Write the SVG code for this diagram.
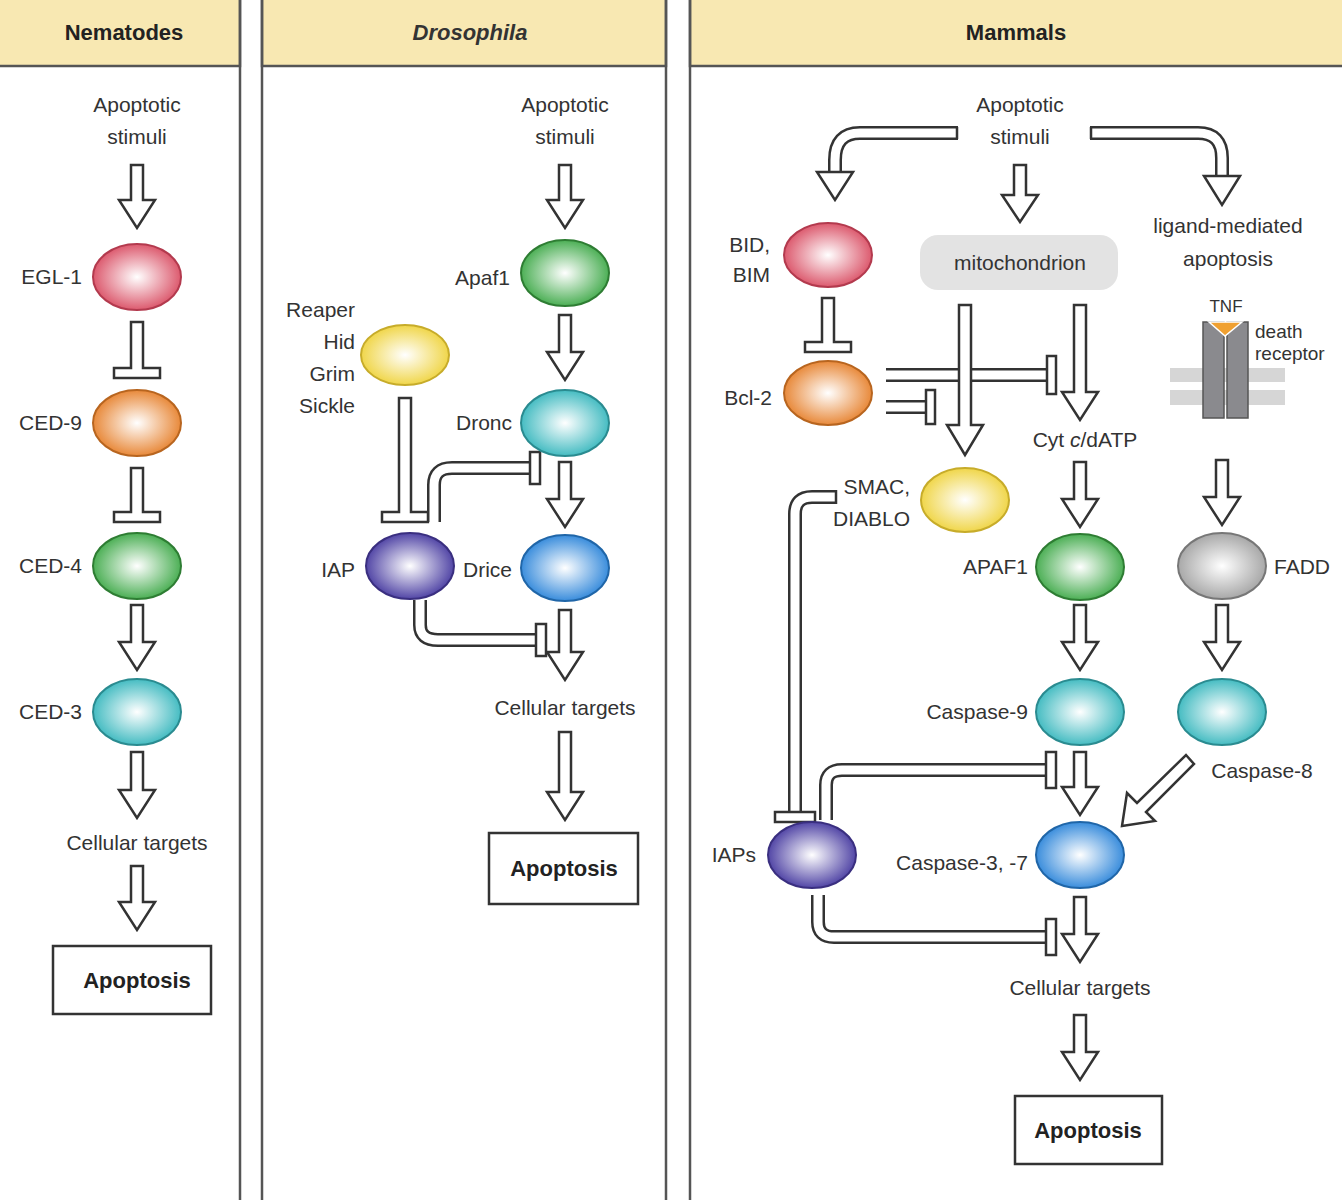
<svg xmlns="http://www.w3.org/2000/svg" width="1342" height="1200" viewBox="0 0 1342 1200">
<defs>
<style>
text{font-family:"Liberation Sans",Arial,sans-serif;font-size:21px;fill:#333}
.c{text-anchor:middle}.r{text-anchor:end}
.h{font-weight:bold;font-size:22px;fill:#222}
.ar{fill:#fff;stroke:#333;stroke-width:2.5;stroke-linejoin:miter}
.o{fill:none;stroke:#333;stroke-width:14}
.i{fill:none;stroke:#fff;stroke-width:9}
.box{fill:#fff;stroke:#333;stroke-width:2.5}
.e{stroke-width:2}
</style>
<radialGradient id="gr"><stop offset="0" stop-color="#fff"/><stop offset="1" stop-color="#dc5a6e"/></radialGradient>
<radialGradient id="go"><stop offset="0" stop-color="#fff"/><stop offset="1" stop-color="#e8893a"/></radialGradient>
<radialGradient id="gg"><stop offset="0" stop-color="#fff"/><stop offset="1" stop-color="#4caf55"/></radialGradient>
<radialGradient id="gc"><stop offset="0" stop-color="#fff"/><stop offset="1" stop-color="#45bcc2"/></radialGradient>
<radialGradient id="gb"><stop offset="0" stop-color="#fff"/><stop offset="1" stop-color="#3a8ddc"/></radialGradient>
<radialGradient id="gp"><stop offset="0" stop-color="#fff"/><stop offset="1" stop-color="#5246a6"/></radialGradient>
<radialGradient id="gy"><stop offset="0" stop-color="#fff"/><stop offset="1" stop-color="#f0d64a"/></radialGradient>
<radialGradient id="gx"><stop offset="0" stop-color="#fff"/><stop offset="1" stop-color="#a8a8a8"/></radialGradient>
</defs>
<rect width="1342" height="1200" fill="#fff"/>
<g id="panels" stroke="#555" stroke-width="2.5">
<rect x="-2" y="-2" width="242" height="68" fill="#f8e8b2"/>
<rect x="262" y="-2" width="404" height="68" fill="#f8e8b2"/>
<rect x="690" y="-2" width="660" height="68" fill="#f8e8b2"/>
<line x1="240" y1="0" x2="240" y2="1200"/><line x1="262" y1="0" x2="262" y2="1200"/>
<line x1="666" y1="0" x2="666" y2="1200"/><line x1="690" y1="0" x2="690" y2="1200"/>
</g>
<text class="c h" x="124" y="40">Nematodes</text>
<text class="c" x="470" y="40" style="font-style:italic;font-weight:bold;font-size:22px">Drosophila</text>
<text class="c h" x="1016" y="40">Mammals</text>

<g id="connectors">
<path class="o" d="M958,133 H860 Q835,133 835,160 V172"/><path class="i" d="M958,133 H860 Q835,133 835,160 V174"/>
<path class="o" d="M1090,133 H1198 Q1222,133 1222,158 V176"/><path class="i" d="M1090,133 H1198 Q1222,133 1222,158 V178"/>
<line x1="957" y1="127" x2="957" y2="139" stroke="#333" stroke-width="2.5"/>
<line x1="1091" y1="127" x2="1091" y2="139" stroke="#333" stroke-width="2.5"/>
<polygon class="ar" points="817,172 853,172 835,200"/>
<polygon class="ar" points="1204,176 1240,176 1222,205"/>
<polygon class="ar" points="131,165 143,165 143,200 155,200 137,228 119,200 131,200"/>
<polygon class="ar" points="131,322 143,322 143,368 160,368 160,378 114,378 114,368 131,368"/>
<polygon class="ar" points="131,468 143,468 143,512 160,512 160,522 114,522 114,512 131,512"/>
<polygon class="ar" points="131,605 143,605 143,642 155,642 137,670 119,642 131,642"/>
<polygon class="ar" points="131,752 143,752 143,790 155,790 137,818 119,790 131,790"/>
<polygon class="ar" points="131,866 143,866 143,902 155,902 137,930 119,902 131,902"/>
<polygon class="ar" points="559,165 571,165 571,200 583,200 565,228 547,200 559,200"/>
<polygon class="ar" points="559,315 571,315 571,352 583,352 565,380 547,352 559,352"/>
<polygon class="ar" points="559,462 571,462 571,499 583,499 565,527 547,499 559,499"/>
<polygon class="ar" points="559,610 571,610 571,652 583,652 565,680 547,652 559,652"/>
<polygon class="ar" points="559,732 571,732 571,792 583,792 565,820 547,792 559,792"/>
<polygon class="ar" points="399,398 411,398 411,512 428,512 428,522 382,522 382,512 399,512"/>
<path class="o" d="M434,522 V485 Q434,468 452,468 H530"/><path class="i" d="M434,524 V485 Q434,468 452,468 H531"/>
<rect class="ar" x="530" y="452" width="10" height="32"/>
<path class="o" d="M420,600 V625 Q420,640 438,640 H536"/><path class="i" d="M420,598 V625 Q420,640 438,640 H537"/>
<rect class="ar" x="536" y="624" width="10" height="32"/>
<polygon class="ar" points="1014,165 1026,165 1026,195 1038,195 1020,222 1002,195 1014,195"/>
<polygon class="ar" points="822,298 834,298 834,342 851,342 851,352 805,352 805,342 822,342"/>
<path class="o" d="M886,375 H1048"/><path class="i" d="M884,375 H1049"/>
<rect class="ar" x="1047" y="356" width="9" height="38"/>
<path class="o" d="M886,407 H926"/><path class="i" d="M884,407 H927"/>
<rect class="ar" x="926" y="390" width="9" height="34"/>
<polygon class="ar" points="959,305 971,305 971,425 983,425 965,455 947,425 959,425"/>
<polygon class="ar" points="1074,305 1086,305 1086,392 1098,392 1080,420 1062,392 1074,392"/>
<polygon class="ar" points="1074,462 1086,462 1086,499 1098,499 1080,527 1062,499 1074,499"/>
<polygon class="ar" points="1074,605 1086,605 1086,642 1098,642 1080,670 1062,642 1074,642"/>
<polygon class="ar" points="1074,752 1086,752 1086,787 1098,787 1080,815 1062,787 1074,787"/>
<polygon class="ar" points="1074,897 1086,897 1086,934 1098,934 1080,962 1062,934 1074,934"/>
<polygon class="ar" points="1074,1015 1086,1015 1086,1052 1098,1052 1080,1080 1062,1052 1074,1052"/>
<polygon class="ar" points="1216,460 1228,460 1228,497 1240,497 1222,525 1204,497 1216,497"/>
<polygon class="ar" points="1216,605 1228,605 1228,642 1240,642 1222,670 1204,642 1216,642"/>
<polygon class="ar" points="1186,755 1194,764 1146,812 1155,821 1122,826 1127,793 1137,803"/>
<path class="o" d="M835,497 H812 Q795,497 795,514 V812"/><path class="i" d="M836,497 H812 Q795,497 795,514 V813"/>
<line x1="836" y1="490" x2="836" y2="504" stroke="#333" stroke-width="2.5"/>
<rect class="ar" x="775" y="812" width="40" height="10"/>
<path class="o" d="M826,820 V785 Q826,770 842,770 H1046"/><path class="i" d="M826,822 V785 Q826,770 842,770 H1047"/>
<rect class="ar" x="1046" y="752" width="10" height="36"/>
<path class="o" d="M818,895 V922 Q818,937 834,937 H1046"/><path class="i" d="M818,893 V922 Q818,937 834,937 H1047"/>
<rect class="ar" x="1046" y="919" width="10" height="36"/>
</g>

<g id="col1">
<text class="c" x="137" y="112">Apoptotic</text><text class="c" x="137" y="144">stimuli</text>
<g id="egl1"><ellipse class="e" cx="137" cy="277" rx="44" ry="33" fill="url(#gr)" stroke="#b33a4e"/><text class="r" x="82" y="284">EGL-1</text></g>
<g id="ced9"><ellipse class="e" cx="137" cy="423" rx="44" ry="33" fill="url(#go)" stroke="#b8651f"/><text class="r" x="82" y="430">CED-9</text></g>
<g id="ced4"><ellipse class="e" cx="137" cy="566" rx="44" ry="33" fill="url(#gg)" stroke="#2e7d33"/><text class="r" x="82" y="573">CED-4</text></g>
<g id="ced3"><ellipse class="e" cx="137" cy="712" rx="44" ry="33" fill="url(#gc)" stroke="#2a8b90"/><text class="r" x="82" y="719">CED-3</text></g>
<text class="c" x="137" y="850">Cellular targets</text>
<g id="apo1"><rect class="box" x="53" y="946" width="158" height="68"/><text class="c h" x="137" y="988">Apoptosis</text></g>
</g>

<g id="col2">
<text class="c" x="565" y="112">Apoptotic</text><text class="c" x="565" y="144">stimuli</text>
<g id="apaf1"><ellipse class="e" cx="565" cy="273" rx="44" ry="33" fill="url(#gg)" stroke="#2e7d33"/><text class="r" x="510" y="285">Apaf1</text></g>
<g id="dronc"><ellipse class="e" cx="565" cy="423" rx="44" ry="33" fill="url(#gc)" stroke="#2a8b90"/><text class="r" x="512" y="430">Dronc</text></g>
<g id="drice"><ellipse class="e" cx="565" cy="568" rx="44" ry="33" fill="url(#gb)" stroke="#2066a8"/><text class="r" x="512" y="577">Drice</text></g>
<g id="reaper"><ellipse class="e" cx="405" cy="355" rx="44" ry="30" fill="url(#gy)" stroke="#c7ac2a"/>
<text class="r" x="355" y="317">Reaper</text><text class="r" x="355" y="349">Hid</text><text class="r" x="355" y="381">Grim</text><text class="r" x="355" y="413">Sickle</text></g>
<g id="iap"><ellipse class="e" cx="410" cy="566" rx="44" ry="33" fill="url(#gp)" stroke="#3a2f80"/><text class="r" x="355" y="577">IAP</text></g>
<text class="c" x="565" y="715">Cellular targets</text>
<g id="apo2"><rect class="box" x="489" y="833" width="149" height="71"/><text class="c h" x="564" y="876">Apoptosis</text></g>
</g>

<g id="col3">
<text class="c" x="1020" y="112">Apoptotic</text><text class="c" x="1020" y="144">stimuli</text>
<g id="bid"><ellipse class="e" cx="828" cy="255" rx="44" ry="32" fill="url(#gr)" stroke="#b33a4e"/><text class="r" x="770" y="252">BID,</text><text class="r" x="770" y="282">BIM</text></g>
<g id="bcl2"><ellipse class="e" cx="828" cy="393" rx="44" ry="32" fill="url(#go)" stroke="#b8651f"/><text class="r" x="772" y="405">Bcl-2</text></g>
<g id="mito"><rect x="920" y="235" width="198" height="55" rx="18" fill="#e3e3e3"/><text class="c" x="1020" y="270">mitochondrion</text></g>
<text class="c" x="1228" y="233">ligand-mediated</text><text class="c" x="1228" y="266">apoptosis</text>
<g id="tnf">
<rect x="1170" y="368" width="115" height="14" fill="#d6d6d6"/><rect x="1170" y="390" width="115" height="15" fill="#d6d6d6"/>
<rect x="1203" y="322" width="21" height="96" fill="#8a8a8e" stroke="#555" stroke-width="1.5"/>
<rect x="1227" y="322" width="21" height="96" fill="#8a8a8e" stroke="#555" stroke-width="1.5"/>
<polygon points="1209,322 1242,322 1225,336" fill="#f0a030" stroke="#fff" stroke-width="1.5"/>
<text class="c" x="1226" y="312" style="font-size:17px">TNF</text>
<text x="1255" y="338" style="font-size:19px">death</text><text x="1255" y="360" style="font-size:19px">receptor</text>
</g>
<text class="c" x="1085" y="447">Cyt <tspan font-style="italic">c</tspan>/dATP</text>
<g id="smac"><ellipse class="e" cx="965" cy="500" rx="44" ry="32" fill="url(#gy)" stroke="#c7ac2a"/><text class="r" x="910" y="494">SMAC,</text><text class="r" x="910" y="526">DIABLO</text></g>
<g id="apaf1m"><ellipse class="e" cx="1080" cy="567" rx="44" ry="33" fill="url(#gg)" stroke="#2e7d33"/><text class="r" x="1028" y="574">APAF1</text></g>
<g id="fadd"><ellipse class="e" cx="1222" cy="566" rx="44" ry="33" fill="url(#gx)" stroke="#777"/><text x="1274" y="574">FADD</text></g>
<g id="casp9"><ellipse class="e" cx="1080" cy="712" rx="44" ry="33" fill="url(#gc)" stroke="#2a8b90"/><text class="r" x="1028" y="719">Caspase-9</text></g>
<g id="casp8"><ellipse class="e" cx="1222" cy="712" rx="44" ry="33" fill="url(#gc)" stroke="#2a8b90"/><text class="c" x="1262" y="778">Caspase-8</text></g>
<g id="casp37"><ellipse class="e" cx="1080" cy="855" rx="44" ry="33" fill="url(#gb)" stroke="#2066a8"/><text class="r" x="1028" y="870">Caspase-3, -7</text></g>
<g id="iaps"><ellipse class="e" cx="812" cy="855" rx="44" ry="33" fill="url(#gp)" stroke="#3a2f80"/><text class="r" x="756" y="862">IAPs</text></g>
<text class="c" x="1080" y="995">Cellular targets</text>
<g id="apo3"><rect class="box" x="1015" y="1096" width="147" height="68"/><text class="c h" x="1088" y="1138">Apoptosis</text></g>
</g>
</svg>
